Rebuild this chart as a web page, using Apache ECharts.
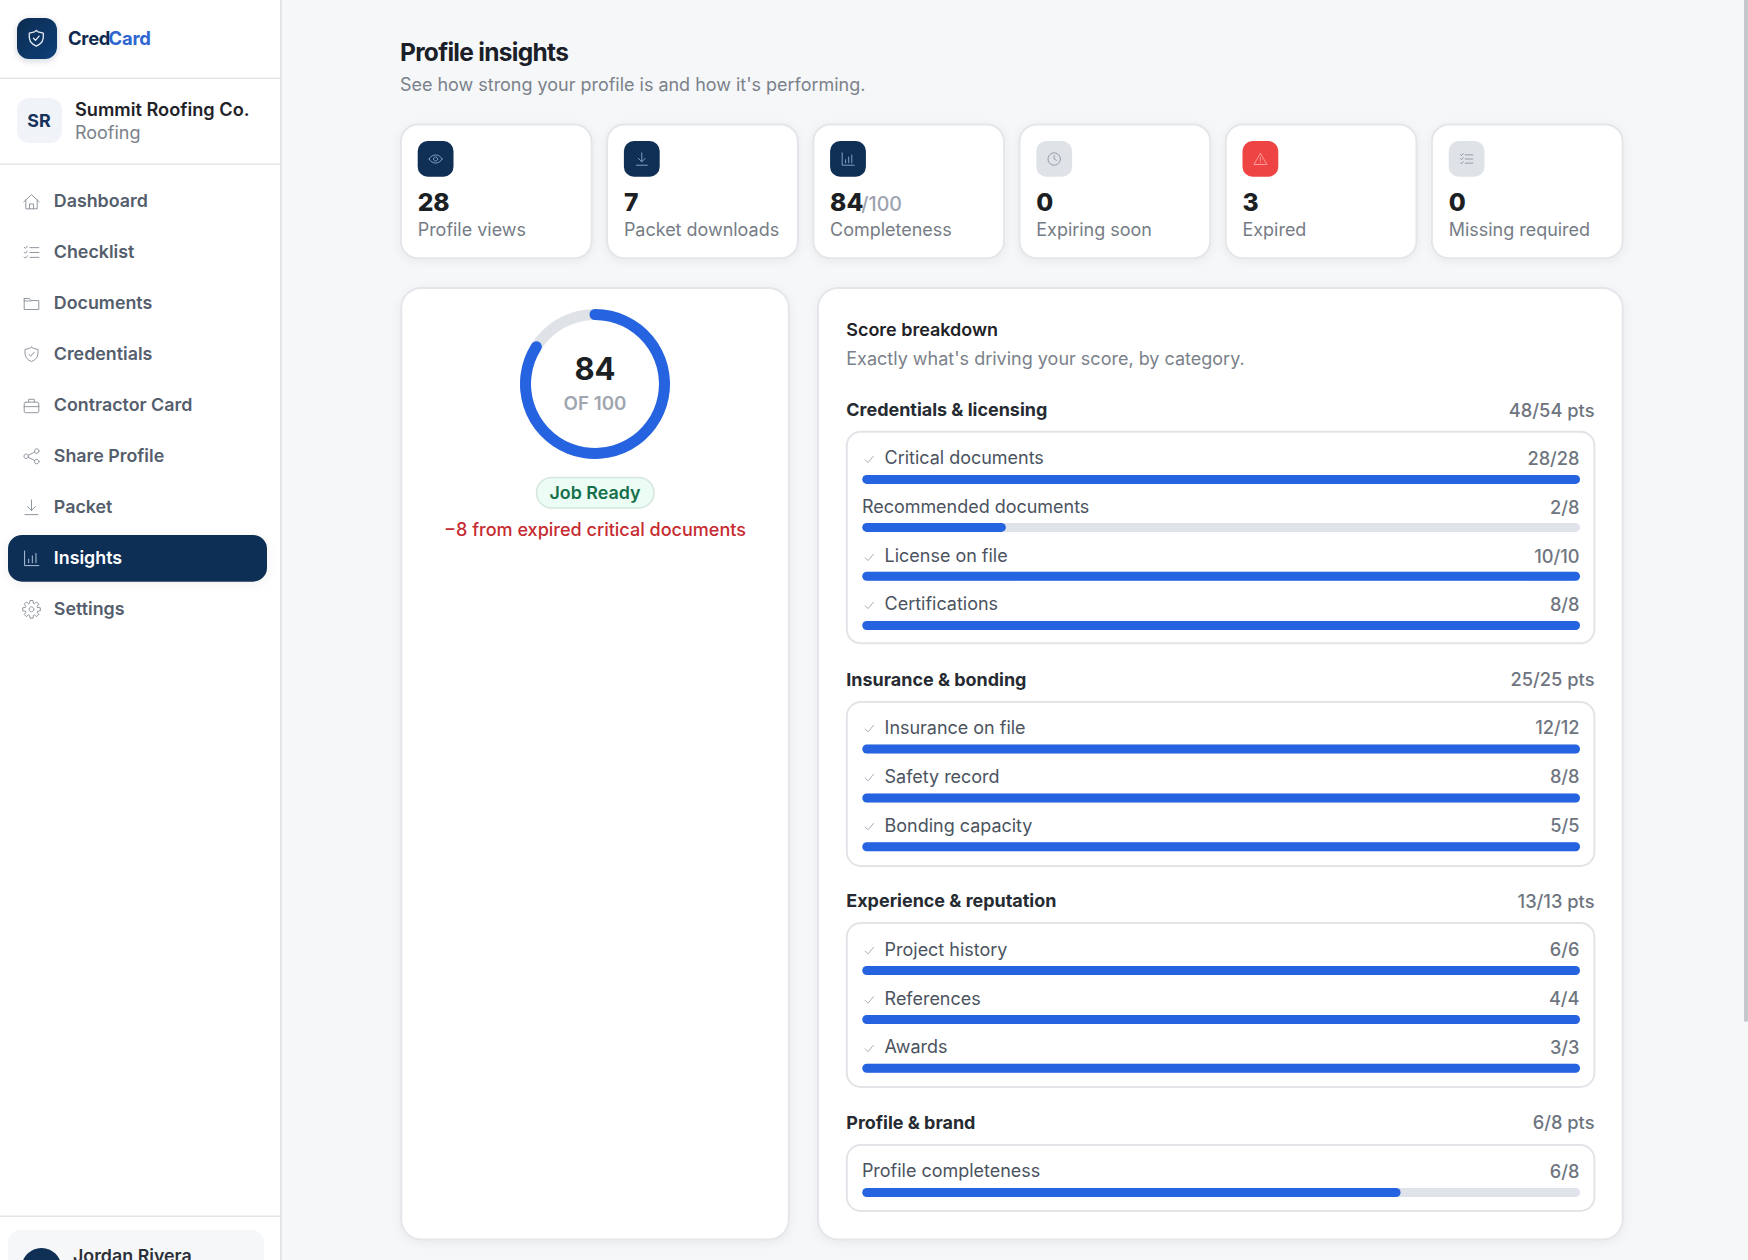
<!DOCTYPE html>
<html><head><meta charset="utf-8">
<style>html,body{margin:0;padding:0;background:#f5f7f9;overflow:hidden}#c{width:1748px;height:1260px}</style>
<script src="https://cdn.jsdelivr.net/npm/echarts@6/dist/echarts.min.js"></script>
</head><body><div id="c"></div>
<script>
// ---- data ----
const navItems = ['Dashboard','Checklist','Documents','Credentials','Contractor Card','Share Profile','Packet','Insights','Settings'];
const statLabels = ['Profile views','Packet downloads','Completeness','Expiring soon','Expired','Missing required'];
const statValues = ['28','7','84','0','3','0'];
const overallScore = 84;
const sectionNames = ['Credentials & licensing','Insurance & bonding','Experience & reputation','Profile & brand'];
const sectionPoints = ['48/54 pts','25/25 pts','13/13 pts','6/8 pts'];
const rowNames = ['Critical documents','Recommended documents','License on file','Certifications','Insurance on file','Safety record','Bonding capacity','Project history','References','Awards','Profile completeness'];
const rowScores = ['28/28','2/8','10/10','8/8','12/12','8/8','5/5','6/6','4/4','3/3','6/8'];
const rowPercent = [100,20,100,100,100,100,100,100,100,100,75];
const rowChecked = [1,0,1,1,1,1,1,1,1,1,0];

// ---- layout (pixels) ----
const FONT = 'Inter';
const BASE = 17.84, BODY = 17.97;
const navY = [200.7,251.7,302.6,353.5,404.6,455.5,506.5,557.5,608.5];
const cardX = [400.9,607.1,813.3,1019.5,1225.7,1431.9];
const sectionY = [409.6,679.3,900.6,1122.4];
const boxY = [[431.7,643.3],[702,866],[923,1087],[1145,1211]];
const rowLabelY = [457.7,506.7,555.7,603.7,727,776,825,949,998.3,1046.8,1170.7];
const rowBarY = [479.4,527.4,576.2,625.5,749,798,846.7,970.5,1019.5,1068.3,1192.5];
const BAR_L = 862.3, BAR_R = 1580, BAR_H = 9;
const BORDER = '#e4e6e9';

const NAVY='#0f2f55', BLUE='#2563e0';
const g = [];
const spacing = {'Profile insights':'-0.7px','Cred':'-0.25px','Card':'-0.25px'};
function T(x,y,text,size,weight,fill,align){
  g.push({type:'text',z:5,style:{x,y,text,fontFamily:FONT,fontSize:size,fontWeight:weight,fill,align:align||'left',verticalAlign:'middle'}});
}
function R(x,y,w,h,r,fill,stroke,lw,shadow){
  const style={fill};
  if(stroke){style.stroke=stroke;style.lineWidth=lw||1.5;}
  if(shadow){style.shadowBlur=shadow;style.shadowColor='rgba(20,30,50,0.06)';style.shadowOffsetY=2;}
  g.push({type:'rect',z:1,shape:{x,y,width:w,height:h,r},style});
}
// icons are described in a 24-unit box
const P=(pts,closed)=>({type:'polyline',shape:{points:closed?pts.concat([pts[0]]):pts}});
const L=(a,b,c,d)=>({type:'line',shape:{x1:a,y1:b,x2:c,y2:d}});
const C=(x,y,r)=>({type:'circle',shape:{cx:x,cy:y,r}});
function gearPts(){const out=[];const n=8;for(let i=0;i<n;i++){const a=i/n*Math.PI*2;
  [[-.30,7.8],[-.17,11],[.17,11],[.30,7.8]].forEach(([d,r])=>out.push([12+r*Math.cos(a+d),12+r*Math.sin(a+d)]));}return out;}
const ICONS={
 home:[P([[2.5,12.5],[12,3.5],[21.5,12.5]]),P([[5,10],[5,21],[19,21],[19,10]]),P([[9.5,21],[9.5,15],[14.5,15],[14.5,21]])],
 list:[L(10,6,21,6),L(10,12,21,12),L(10,18,21,18),P([[3,5.5],[4.5,7],[7,4]]),P([[3,11.5],[4.5,13],[7,10]]),P([[3,17.5],[4.5,19],[7,16]])],
 folder:[P([[3,6],[9.5,6],[11.5,8.5],[21,8.5],[21,19.5],[3,19.5]],true),L(3,9,11.5,9)],
 shield:[P([[12,3],[14,4.6],[20,6],[20,11.5],[18.6,16],[15.5,19],[12,21],[8.5,19],[5.4,16],[4,11.5],[4,6],[10,4.6]],true),P([[8.8,12],[11.1,14.3],[15.2,9.5]])],
 case:[{type:'rect',shape:{x:3,y:8,width:18,height:13,r:2}},P([[8.5,8],[8.5,4.5],[15.5,4.5],[15.5,8]]),L(3,13.5,21,13.5)],
 share:[C(5.5,12,2.8),C(18.5,5.5,2.8),C(18.5,18.5,2.8),L(8,10.7,16,6.8),L(8,13.3,16,17.2)],
 down:[L(12,3,12,16),P([[7,11],[12,16],[17,11]]),L(4,21,20,21)],
 chart:[P([[3.5,3],[3.5,21],[21,21]]),L(8.5,17.5,8.5,13),L(13,17.5,13,9),L(17.5,17.5,17.5,6)],
 gear:[P(gearPts(),true),C(12,12,3)],
 eye:[{type:'bezierCurve',shape:{x1:2.5,y1:12,x2:21.5,y2:12,cpx1:7,cpy1:4,cpx2:17,cpy2:4}},{type:'bezierCurve',shape:{x1:2.5,y1:12,x2:21.5,y2:12,cpx1:7,cpy1:20,cpx2:17,cpy2:20}},C(12,12,3)],
 clock:[C(12,12,9),P([[12,7],[12,12],[15.2,14]])],
 warn:[P([[12,4],[21.5,20],[2.5,20]],true),L(12,9.5,12,14.5),L(12,16.8,12,17.2)],
 check:[P([[4,13],[9.5,18.5],[20,6]])]
};
function icon(name,cx,cy,px,color,lw){
  const s=px/24;
  g.push({type:'group',z:6,x:cx-12*s,y:cy-12*s,scaleX:s,scaleY:s,
    children:ICONS[name].map(e=>({...e,z:6,style:{fill:'none',stroke:color,lineWidth:lw/s,lineCap:'round',lineJoin:'round'}}))});
}

// ---- sidebar ----
g.push({type:'rect',z:0,shape:{x:0,y:0,width:280,height:1260},style:{fill:'#ffffff'}});
g.push({type:'rect',z:0,shape:{x:280,y:0,width:2,height:1260},style:{fill:'#e3e5e8'}});
[[77.5],[163.5],[1215.5]].forEach(([y])=>g.push({type:'rect',z:1,shape:{x:0,y,width:280,height:1.6},style:{fill:'#e3e5e8'}}));
g.push({type:'rect',z:2,shape:{x:17,y:18,width:40,height:41,r:12},style:{
  fill:{type:'linear',x:0,y:0,x2:1,y2:1,colorStops:[{offset:0,color:'#0f2c50'},{offset:1,color:'#113f7a'}]},
  shadowBlur:6,shadowColor:'rgba(15,47,85,0.18)',shadowOffsetY:2}});
icon('shield',36.3,38.3,21,'#e6edf6',1.3);
T(68,37.5,'Cred',18.4,700,'#0f2b50');
T(108.6,37.5,'Card',18.4,700,'#2f66d0');
R(17,98,45,45,12,'#f0f4f9');
T(39,120.5,'SR',17.84,700,'#16325c','center');
T(75,108.5,'Summit Roofing Co.',18.2,600,'#1f2328');
T(75,132.5,'Roofing',BODY,400,'#7b818a');
R(8,535,259,46.7,14,NAVY,null,0,12);
const navIcons=['home','list','folder','shield','case','share','down','chart','gear'];
navItems.forEach((n,i)=>{
  const on=n==='Insights';
  icon(navIcons[i],31.5,navY[i]+.8,19.5,on?'#b8c9de':'#8b919a',0.95);
  T(53.8,navY[i],n,BASE,600,on?'#ffffff':'#555e6c');
});
R(8,1230,256,60,12,'#f6f7f9');
g.push({type:'circle',z:3,shape:{cx:41.5,cy:1268,r:20},style:{fill:NAVY}});
T(73,1255,'Jordan Rivera',BASE,600,'#2b3038');

// ---- header ----
T(400,52,'Profile insights',24.5,700,'#1b2028');
T(400,84.7,"See how strong your profile is and how it's performing.",BODY,400,'#7b818a');

// ---- stat cards ----
const tiles=[[NAVY,'eye','#8fadd0'],[NAVY,'down','#8fadd0'],[NAVY,'chart','#8fadd0'],['#dfe2e6','clock','#8a93a0'],['#ef4444','warn','#fca5a5'],['#dfe2e6','list','#8a93a0']];
statLabels.forEach((lab,i)=>{
  const x=cardX[i], tx=x+16.8;
  R(x,124.6,190.8,133.6,17,'#ffffff',BORDER,2,10);
  R(tx,141,35.8,35.8,10,tiles[i][0]);
  icon(tiles[i][1],tx+17.9,159,16.5,tiles[i][2],0.9);
  T(tx,201.7,statValues[i],24.6,800,'#1c1f24');
  if(lab==='Completeness') T(tx+31.2,204.3,'/100',19.6,500,'#9ca3af');
  T(tx,229.2,lab,BODY,400,'#767c85');
});

// ---- panels ----
R(401.2,288,387.6,951.6,20,'#ffffff',BORDER,2,10);
R(818,288,804.8,951.6,20,'#ffffff',BORDER,2,10);

// left panel texts
R(536.5,477.5,117.5,30.5,15.2,'#ecfdf5','#d5e6dd',1.5);
T(595,492.5,'Job Ready',BASE,600,'#15704c','center');
T(595,529.2,'\u22128 from expired critical documents',18.04,500,'#c62b31','center');

// right panel texts
T(846.3,329.7,'Score breakdown',BODY,600,'#1f2328');
T(846.3,358.2,"Exactly what's driving your score, by category.",18,400,'#7b818a');
sectionNames.forEach((s,i)=>{
  T(846.3,sectionY[i],s,BODY,700,'#262b32');
  T(1594.5,sectionY[i],sectionPoints[i],18.3,500,'#6e7580','right');
  R(846.8,boxY[i][0],747.6,boxY[i][1]-boxY[i][0],14,'#ffffff','#e2e4e8',2);
});
rowNames.forEach((n,i)=>{
  if(rowChecked[i]) icon('check',869.3,rowLabelY[i]+1.5,12.5,'#9aa1aa',0.85);
  T(rowChecked[i]?884.6:861.9,rowLabelY[i],n,BODY,400,'#4b5360');
  T(1579.5,rowLabelY[i],rowScores[i],18.2,500,'#6e7580','right');
});

// ---- charts ----
const grids=[],xAxes=[],yAxes=[],series=[];
rowNames.forEach((n,i)=>{
  grids.push({left:BAR_L,width:BAR_R-BAR_L,top:rowBarY[i]-BAR_H/2,height:BAR_H,containLabel:false});
  xAxes.push({gridIndex:i,type:'value',min:0,max:100,show:false});
  yAxes.push({gridIndex:i,type:'category',data:[n],show:false});
  series.push({type:'bar',xAxisIndex:i,yAxisIndex:i,data:[rowPercent[i]],barWidth:BAR_H,silent:true,animation:false,
    showBackground:true,backgroundStyle:{color:'#e0e3ea',borderRadius:BAR_H/2},
    itemStyle:{color:BLUE,borderRadius:BAR_H/2}});
});
series.push({type:'gauge',center:[595,384],radius:75,startAngle:90,endAngle:-270,min:0,max:100,animation:false,silent:true,
  pointer:{show:false},axisTick:{show:false},splitLine:{show:false},axisLabel:{show:false},
  axisLine:{lineStyle:{width:11,color:[[1,'#dfe3e7']]}},
  progress:{show:true,roundCap:true,width:11,itemStyle:{color:BLUE}},
  data:[{value:overallScore,name:'OF 100',
    title:{offsetCenter:[0,19],fontFamily:FONT,fontSize:18.8,fontWeight:600,color:'#a0a6af'},
    detail:{offsetCenter:[0,-15.5],fontFamily:FONT,fontSize:31,fontWeight:700,color:'#1c1f24',formatter:'{value}'}}]});

const chart=echarts.init(document.getElementById('c'),null,{renderer:'svg',width:1748,height:1260});
// scrollbar
g.push({type:'rect',z:9,shape:{x:1744,y:-6,width:4,height:1028,r:2},style:{fill:'#c5c9ce'}});
function applySpacing(){
  document.querySelectorAll('#c svg text').forEach(t=>{
    const v=spacing[t.textContent]; if(v) t.style.letterSpacing=v;
  });
}
chart.on('finished',applySpacing);
chart.setOption({animation:false,backgroundColor:'#f5f7f9',grid:grids,xAxis:xAxes,yAxis:yAxes,series,graphic:{elements:g}});
applySpacing();
</script></body></html>
